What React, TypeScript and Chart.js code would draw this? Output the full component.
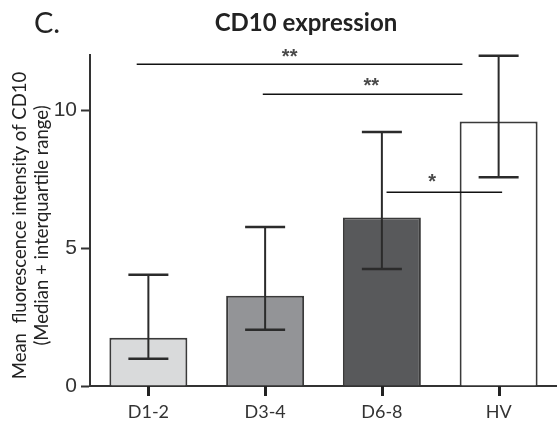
import React, { useEffect, useRef } from 'react';
import { Chart, registerables } from 'chart.js';

Chart.register(...registerables);

const categories = ['D1-2', 'D3-4', 'D6-8', 'HV'];
const medians = [1.75, 3.27, 6.11, 9.59];
const q1 = [0.99, 2.04, 4.24, 7.57];
const q3 = [4.03, 5.76, 9.21, 11.97];
const barColors = ['#d9dadb', '#939497', '#58595b', '#ffffff'];
const yTicks = [0, 5, 10];
const sigLabels = ['**', '**', '*'];
const sigY = [11.66, 10.57, 7.02];
const sigFrom = [-0.1, 0.98, 2.04];
const sigTo = [2.69, 2.69, 3.03];
const sigTextX = [1.21, 1.91, 2.43];
const sigTextY = [12.07, 11.01, 7.54];
const titleText = 'CD10 expression';
const panelLabel = 'C.';
const yTitle = ['Mean  fluorescence intensity of CD10', '(Median + interquartile range)'];

const INK = '#333333';

function drawXTicks(chart: any) {
  const ctx = chart.ctx;
  const xs = chart.scales.x;
  const bottom = xs.top;
  ctx.save();
  ctx.fillStyle = '#222222';
  for (let i = 0; i < categories.length; i++) {
    const x = Math.round(xs.getPixelForValue(i));
    ctx.fillRect(x - 1, bottom, 3, 10);
  }
  ctx.restore();
}

const errorBarPlugin = {
  id: 'errorBars',
  afterDatasetsDraw(chart: any) {
    const ctx = chart.ctx;
    const xs = chart.scales.x;
    const ys = chart.scales.y;
    ctx.save();
    ctx.strokeStyle = '#2b2b2b';
    for (let i = 0; i < categories.length; i++) {
      const x = xs.getPixelForValue(i);
      const yl = ys.getPixelForValue(q1[i]);
      const yh = ys.getPixelForValue(q3[i]);
      ctx.lineWidth = 2;
      ctx.beginPath();
      ctx.moveTo(x, yl);
      ctx.lineTo(x, yh);
      ctx.stroke();
      ctx.lineWidth = 2.5;
      ctx.beginPath();
      ctx.moveTo(x - 20, yl);
      ctx.lineTo(x + 20, yl);
      ctx.moveTo(x - 20, yh);
      ctx.lineTo(x + 20, yh);
      ctx.stroke();
    }
    ctx.restore();
    drawXTicks(chart);
  },
};

const annotationPlugin = {
  id: 'annotations',
  afterDraw(chart: any) {
    const ctx = chart.ctx;
    const xs = chart.scales.x;
    const ys = chart.scales.y;
    const area = chart.chartArea;
    drawXTicks(chart);
    ctx.save();
    // significance brackets
    ctx.strokeStyle = '#111111';
    ctx.lineWidth = 1.5;
    for (let i = 0; i < sigLabels.length; i++) {
      const y = Math.round(ys.getPixelForValue(sigY[i])) + 0.25;
      ctx.beginPath();
      ctx.moveTo(xs.getPixelForValue(sigFrom[i]), y);
      ctx.lineTo(xs.getPixelForValue(sigTo[i]), y);
      ctx.stroke();
      ctx.font = 'bold 20px "Liberation Sans"';
      ctx.fillStyle = '#4a4a4a';
      ctx.textAlign = 'center';
      ctx.textBaseline = 'alphabetic';
      const m = ctx.measureText(sigLabels[i]);
      const cy = ys.getPixelForValue(sigTextY[i]);
      const base = cy + (m.actualBoundingBoxAscent - m.actualBoundingBoxDescent) / 2;
      ctx.fillText(sigLabels[i], xs.getPixelForValue(sigTextX[i]), base);
    }
    // title
    ctx.fillStyle = '#222222';
    ctx.textAlign = 'center';
    ctx.textBaseline = 'alphabetic';
    ctx.font = 'bold 24px Lato';
    ctx.fillText(titleText, 306, 31);
    // panel label
    ctx.textAlign = 'left';
    ctx.font = '29px Lato';
    ctx.fillText(panelLabel, 34, 33);
    // y title
    const cyMid = (area.top + area.bottom) / 2 + 5;
    ctx.font = '18.5px Lato';
    ctx.textAlign = 'center';
    ctx.textBaseline = 'middle';
    const lineX = [20, 42];
    for (let j = 0; j < yTitle.length; j++) {
      ctx.save();
      ctx.translate(lineX[j], cyMid);
      ctx.rotate(-Math.PI / 2);
      ctx.fillText(yTitle[j], 0, 0);
      ctx.restore();
    }
    ctx.restore();
  },
};

export default function App() {
  const ref = useRef<HTMLCanvasElement>(null);
  useEffect(() => {
    document.body.style.margin = '0';
    const canvas = ref.current;
    if (!canvas) return;
    const chart = new Chart(canvas, {
      type: 'bar',
      data: {
        labels: categories,
        datasets: [
          {
            data: medians,
            backgroundColor: barColors,
            borderColor: '#3a3a3a',
            borderWidth: 2,
            barPercentage: 0.668,
            categoryPercentage: 1,
          },
        ],
      },
      options: {
        animation: false,
        responsive: false,
        devicePixelRatio: 1,
        layout: { padding: { top: 55, right: 0, bottom: 0, left: 0 } },
        plugins: {
          legend: { display: false },
          title: { display: false },
          tooltip: { enabled: false },
        },
        scales: {
          x: {
            afterFit(scale: any) {
              scale.height = 44;
            },
            grid: {
              display: true,
              drawOnChartArea: false,
              drawTicks: true,
              tickLength: 9,
              color: 'rgba(0,0,0,0)',
              tickColor: 'rgba(0,0,0,0)',
            },
            border: { display: true, color: INK, width: 2 },
            ticks: {
              color: '#333333',
              font: { family: 'Lato', size: 18 },
              padding: 6,
              maxRotation: 0,
            },
          },
          y: {
            min: 0,
            max: 12,
            afterFit(scale: any) {
              scale.width = 90;
            },
            afterBuildTicks(scale: any) {
              scale.ticks = yTicks.map((v) => ({ value: v }));
            },
            grid: {
              drawOnChartArea: false,
              drawTicks: true,
              tickLength: 9,
              tickColor: INK,
              tickWidth: 2,
            },
            border: { display: true, color: INK, width: 2 },
            ticks: {
              color: '#333333',
              font: { family: '"Liberation Sans"', size: 21 },
              padding: 4,
            },
          },
        },
      },
      plugins: [errorBarPlugin, annotationPlugin],
    });
    return () => chart.destroy();
  }, []);
  return <canvas ref={ref} width={557} height={430} style={{ display: 'block' }} />;
}
